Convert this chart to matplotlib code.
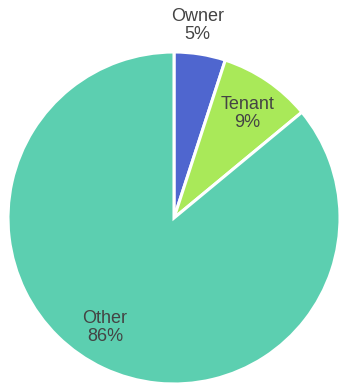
import numpy as np
import matplotlib.pyplot as plt

labels = ["Owner", "Tenant", "Other"]
shares = [5, 9, 86]
colors = ["#4f66cf", "#a9e959", "#5ccfb0"]

fig = plt.figure(figsize=(3.39, 3.89), dpi=100)
ax = fig.add_axes([0, 0, 1, 1])

wedges, _ = ax.pie(shares, colors=colors, startangle=90, counterclock=False,
                   wedgeprops=dict(edgecolor="white", linewidth=2.2))

# label placement: distance in radii, small angle nudge in degrees
label_r = [1.17, 0.77, 0.78]
label_nudge = [2.0, -1.0, -7.0]
total = sum(shares)
start = 90.0
for lab, val, r, nd in zip(labels, shares, label_r, label_nudge):
    mid = np.deg2rad(start - val / total * 360 / 2 + nd)
    start -= val / total * 360
    ax.text(r * np.cos(mid), r * np.sin(mid), "%s\n%d%%" % (lab, val),
            ha="center", va="center", fontsize=13, color="#444444",
            family=["Liberation Sans", "DejaVu Sans"], linespacing=1.1)

ax.set_xlim(-174 / 166, (339 - 174) / 166)
ax.set_ylim(-(389 - 218) / 166, 218 / 166)
ax.set_aspect("auto")
ax.axis("off")

fig.savefig("out.png", dpi=100)
